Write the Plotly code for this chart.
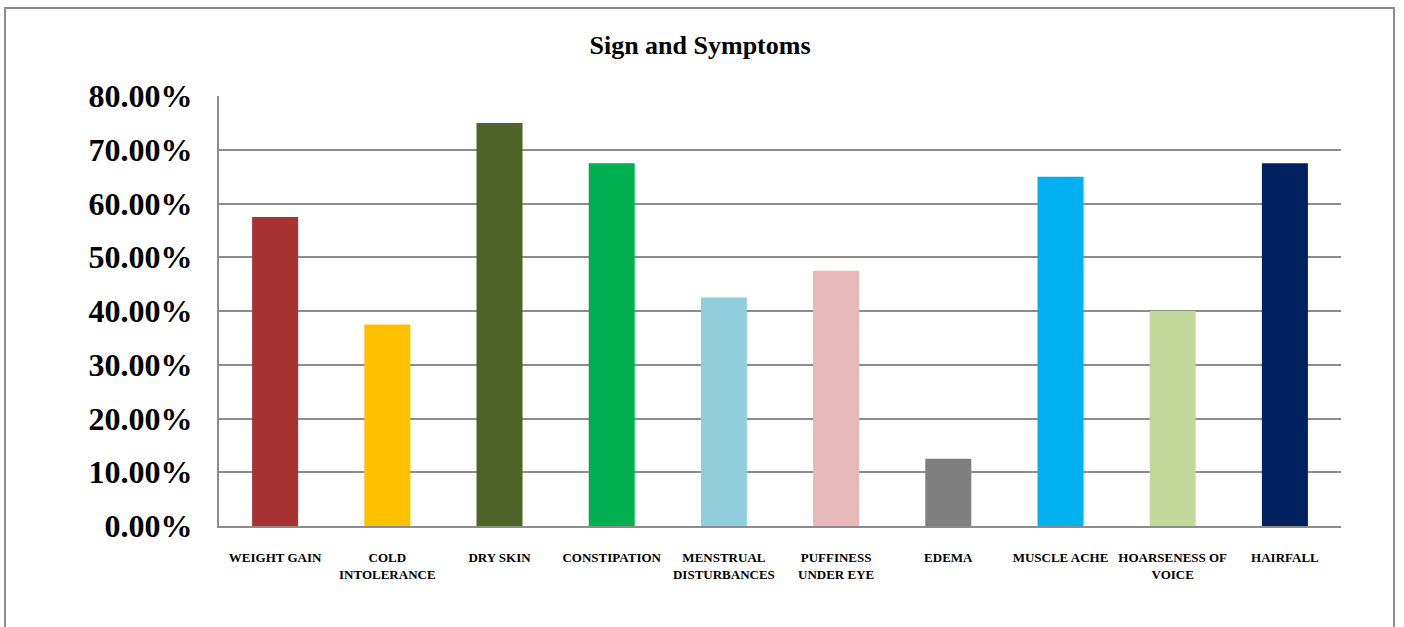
import plotly.graph_objects as go

categories = ["WEIGHT GAIN", "COLD<br>INTOLERANCE", "DRY SKIN", "CONSTIPATION",
              "MENSTRUAL<br>DISTURBANCES", "PUFFINESS<br>UNDER EYE", "EDEMA",
              "MUSCLE ACHE", "HOARSENESS OF<br>VOICE", "HAIRFALL"]
values = [0.575, 0.375, 0.75, 0.675, 0.425, 0.475, 0.125, 0.65, 0.40, 0.675]
colors = ["#a83232", "#ffc000", "#4f6228", "#00b050", "#92cddc",
          "#e6b9b8", "#7f7f7f", "#00b0f0", "#c4d79b", "#002060"]
y_ticks = [0, 0.1, 0.2, 0.3, 0.4, 0.5, 0.6, 0.7, 0.8]
y_tick_labels = ["0.00%", "10.00%", "20.00%", "30.00%", "40.00%", "50.00%",
                 "60.00%", "70.00%", "80.00%"]

serif = "Liberation Serif, DejaVu Serif, serif"

fig = go.Figure(go.Bar(x=categories, y=values, marker_color=colors,
                       marker_line_width=0, showlegend=False))

W, H = 1404, 627
L, R, T, B = 219, 1341, 96, 526
fig.update_layout(
    width=W, height=H,
    margin=dict(l=L, r=W - R, t=T, b=H - B, pad=0),
    paper_bgcolor="white", plot_bgcolor="white",
    bargap=0.59,
    title=dict(text="<b>Sign and Symptoms</b>", x=700 / W, xanchor="center",
               y=1 - 45 / H, yanchor="middle",
               font=dict(family=serif, size=26, color="black")),
    xaxis=dict(tickfont=dict(family=serif, size=13, color="black"),
               showline=True, linecolor="#8c8c8c", linewidth=2,
               ticks="", ticklabelstandoff=18, tickangle=0),
    yaxis=dict(range=[0, 0.8], tickvals=y_ticks,
               ticktext=["<b>%s</b>" % t for t in y_tick_labels],
               tickfont=dict(family=serif, size=32, color="black"),
               showgrid=True, gridcolor="#8c8c8c", gridwidth=2,
               showline=True, linecolor="#8c8c8c", linewidth=2,
               zeroline=False, ticks="", ticklabelstandoff=18),
)
fig.update_xaxes(tickvals=categories, ticktext=["<b>%s</b>" % c for c in categories])

pw, ph = R - L, B - T
fig.add_shape(type="rect", xref="paper", yref="paper",
              x0=(5 - L) / pw, x1=(1394 - L) / pw,
              y0=(B - 660) / ph, y1=(B - 8) / ph,
              line=dict(color="#8c8c8c", width=2), fillcolor="rgba(0,0,0,0)", layer="below")

fig.write_html("out.html")
